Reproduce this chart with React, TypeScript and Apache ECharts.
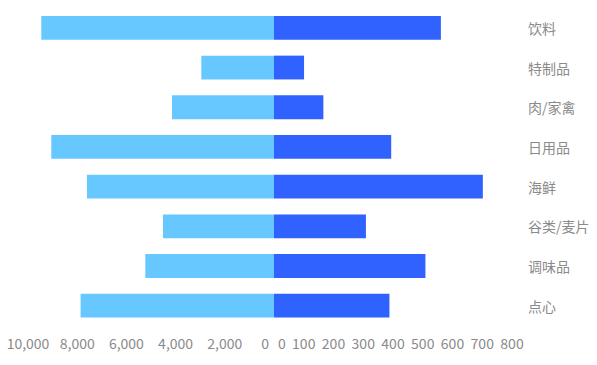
import React, { useEffect, useRef } from "react";
import * as echarts from "echarts";

const categories = ["饮料", "特制品", "肉/家禽", "日用品", "海鲜", "谷类/麦片", "调味品", "点心"];
const leftValues = [9460, 2955, 4146, 9053, 7602, 4512, 5232, 7862];
const rightValues = [561, 101, 166, 394, 702, 309, 509, 388];
const leftTicks = [0, 2000, 4000, 6000, 8000, 10000];
const rightTicks = [0, 100, 200, 300, 400, 500, 600, 700, 800];

const FONT = "'Noto Sans CJK SC', 'Noto Sans', sans-serif";
const LABEL_COLOR = "#8a8a8a";

export default function App() {
  const ref = useRef<HTMLDivElement>(null);
  useEffect(() => {
    if (!ref.current) return;
    const chart = echarts.init(ref.current, undefined, { renderer: "svg" });
    const fmt = (v: number) => v.toLocaleString("en-US");
    chart.setOption({
      animation: false,
      textStyle: { fontFamily: FONT },
      grid: [
        { left: 28, width: 246, top: 8, bottom: 39.5 },
        { left: 274, right: 85, top: 8, bottom: 39.5 },
      ],
      xAxis: [
        {
          type: "value",
          gridIndex: 0,
          inverse: true,
          min: leftTicks[0],
          max: leftTicks[leftTicks.length - 1],
          interval: 2000,
          splitLine: { show: false },
          axisLine: { show: false },
          axisTick: { show: false },
          axisLabel: {
            color: LABEL_COLOR,
            fontSize: 14,
            fontFamily: FONT,
            margin: 10,
            alignMinLabel: "right",
            formatter: (v: number) => (v === 0 ? "{z|0}" : fmt(v)),
            rich: { z: { padding: [0, 5, 0, 0], color: LABEL_COLOR, fontSize: 14, fontFamily: FONT } },
          },
        },
        {
          type: "value",
          gridIndex: 1,
          min: rightTicks[0],
          max: rightTicks[rightTicks.length - 1],
          interval: 100,
          splitLine: { show: false },
          axisLine: { show: false },
          axisTick: { show: false },
          axisLabel: {
            color: LABEL_COLOR,
            fontSize: 14,
            fontFamily: FONT,
            margin: 10,
            alignMinLabel: "left",
            formatter: (v: number) => (v === 0 ? "{z|0}" : String(v)),
            rich: { z: { padding: [0, 0, 0, 4], color: LABEL_COLOR, fontSize: 14, fontFamily: FONT } },
          },
        },
      ],
      yAxis: [
        {
          type: "category",
          gridIndex: 0,
          inverse: true,
          data: categories,
          show: false,
        },
        {
          type: "category",
          gridIndex: 1,
          inverse: true,
          data: categories,
          position: "right",
          axisLine: { show: false },
          axisTick: { show: false },
          axisLabel: { color: LABEL_COLOR, fontSize: 14, fontFamily: FONT, margin: 16 },
        },
      ],
      series: [
        {
          type: "bar",
          xAxisIndex: 0,
          yAxisIndex: 0,
          data: leftValues,
          barWidth: "60%",
          itemStyle: { color: "#66c8ff" },
        },
        {
          type: "bar",
          xAxisIndex: 1,
          yAxisIndex: 1,
          data: rightValues,
          barWidth: "60%",
          itemStyle: { color: "#2f62ff" },
        },
      ],
    });
    return () => chart.dispose();
  }, []);
  return <div ref={ref} style={{ width: 597, height: 365, position: "absolute", left: 0, top: 0 }} />;
}
